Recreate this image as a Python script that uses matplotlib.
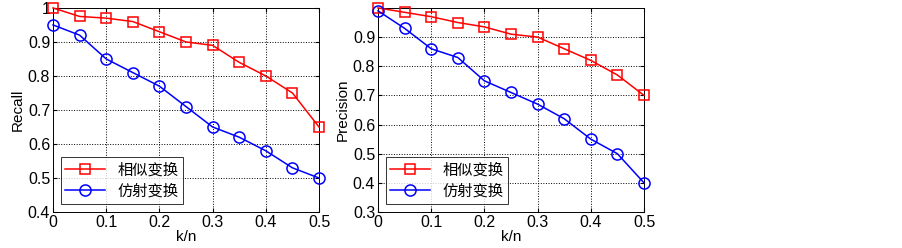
import matplotlib
matplotlib.use('Agg')
import matplotlib.pyplot as plt

plt.rcParams['font.family'] = ['Liberation Sans', 'Noto Sans CJK SC', 'DejaVu Sans']

kn = [0, 0.05, 0.1, 0.15, 0.2, 0.25, 0.3, 0.35, 0.4, 0.45, 0.5]
recall_sim = [1.0, 0.975, 0.97, 0.96, 0.93, 0.90, 0.89, 0.84, 0.80, 0.75, 0.65]
recall_aff = [0.95, 0.92, 0.85, 0.81, 0.77, 0.71, 0.65, 0.62, 0.58, 0.53, 0.50]
prec_sim = [1.0, 0.985, 0.97, 0.95, 0.935, 0.91, 0.90, 0.86, 0.82, 0.77, 0.70]
prec_aff = [0.99, 0.93, 0.86, 0.83, 0.75, 0.71, 0.67, 0.62, 0.55, 0.50, 0.40]
labels = ['相似变换', '仿射变换']
xticks = [0, 0.1, 0.2, 0.3, 0.4, 0.5]

fig = plt.figure(figsize=(9.03, 2.48), dpi=100)
ax1 = fig.add_axes([0.0587, 0.145, 0.2946, 0.823])
ax2 = fig.add_axes([0.4186, 0.145, 0.2946, 0.823])


def draw(ax, sim, aff, ylabel, ylim, yticks, yticklabels):
    ax.plot(kn, sim, '-s', color='red', mfc='none', ms=7, lw=1.1, mew=1.1,
            label=labels[0], clip_on=False, zorder=3)
    ax.plot(kn, aff, '-o', color='blue', mfc='none', ms=8, lw=1.1, mew=1.1,
            label=labels[1], clip_on=False, zorder=3)
    ax.set_xlim(0, 0.5)
    ax.set_ylim(*ylim)
    ax.set_xticks(xticks)
    ax.set_xticklabels(['0', '0.1', '0.2', '0.3', '0.4', '0.5'])
    ax.set_yticks(yticks)
    ax.set_yticklabels(yticklabels)
    ax.tick_params(direction='in', labelsize=11.5, length=3, top=True, right=True, pad=2)
    ax.grid(True, linestyle=':', color='black', linewidth=0.7)
    ax.set_xlabel('k/n', fontsize=11, labelpad=0)
    ax.set_ylabel(ylabel, fontsize=11, labelpad=2)
    for s in ax.spines.values():
        s.set_linewidth(0.7)
    leg = ax.legend(loc='lower left', frameon=True, fancybox=False,
                    edgecolor='black', handlelength=2.6, borderpad=0.3,
                    labelspacing=0.3, borderaxespad=0.5,
                    prop={'family': ['Noto Sans CJK SC'], 'size': 11})
    leg.get_frame().set_linewidth(0.7)


draw(ax1, recall_sim, recall_aff, 'Recall', (0.4, 1.0),
     [0.4, 0.5, 0.6, 0.7, 0.8, 0.9, 1.0], ['0.4', '0.5', '0.6', '0.7', '0.8', '0.9', '1'])
draw(ax2, prec_sim, prec_aff, 'Precision', (0.3, 1.0),
     [0.3, 0.4, 0.5, 0.6, 0.7, 0.8, 0.9], ['0.3', '0.4', '0.5', '0.6', '0.7', '0.8', '0.9'])

fig.savefig('out.png', dpi=100)
